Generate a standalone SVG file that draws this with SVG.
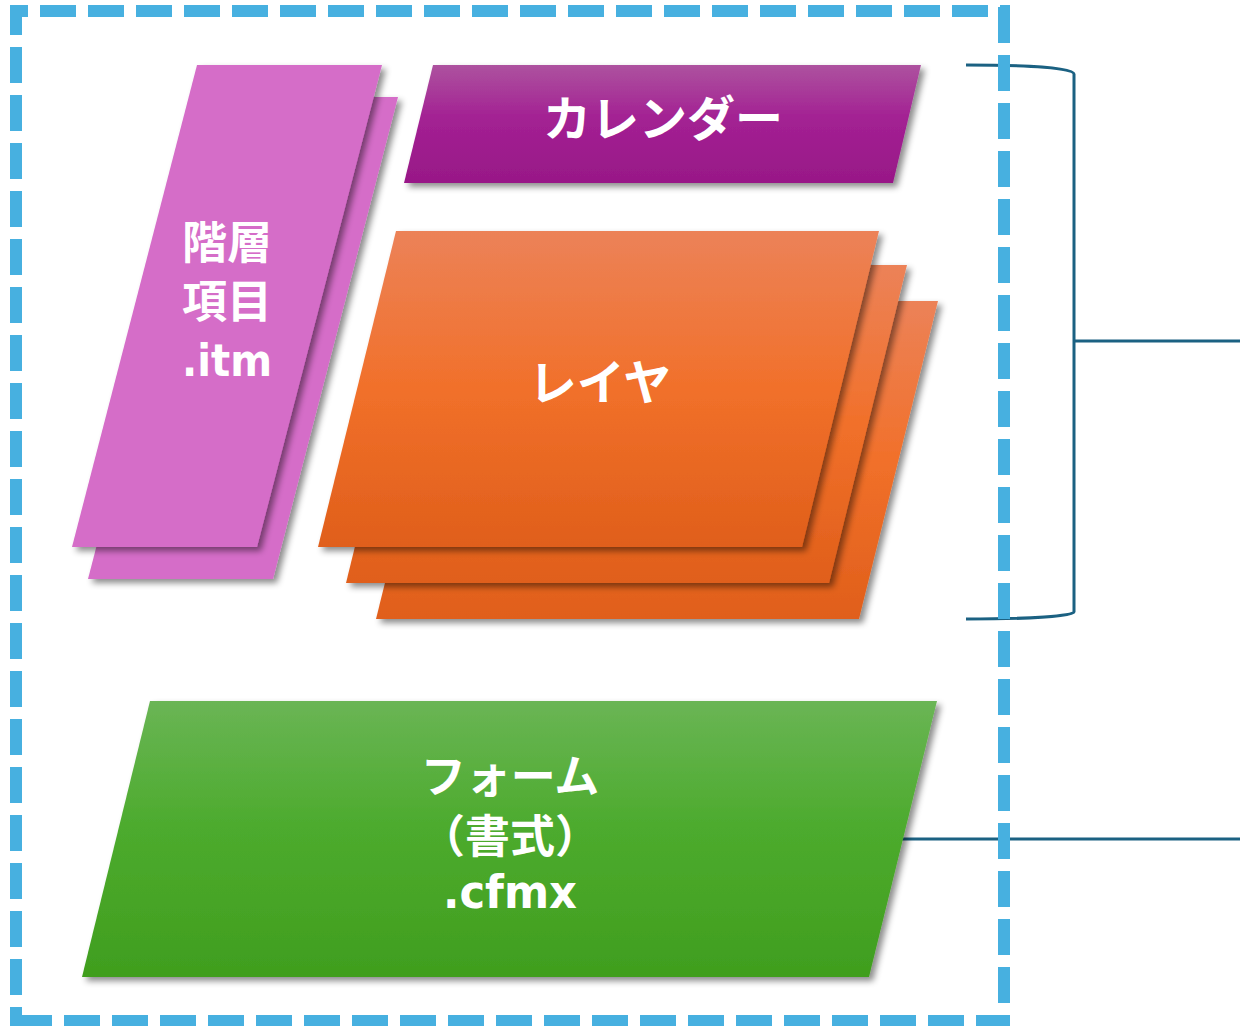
<svg xmlns="http://www.w3.org/2000/svg" width="1240" height="1026" viewBox="0 0 1240 1026">
  <defs>
    <linearGradient id="gCal" x1="0" y1="0" x2="0" y2="1">
      <stop offset="0" stop-color="#AD529F"/>
      <stop offset="0.45" stop-color="#A32193"/>
      <stop offset="1" stop-color="#981887"/>
    </linearGradient>
    <linearGradient id="gOrg" x1="0" y1="0" x2="0" y2="1">
      <stop offset="0" stop-color="#EC8258"/>
      <stop offset="0.5" stop-color="#F1702A"/>
      <stop offset="1" stop-color="#E05F1B"/>
    </linearGradient>
    <linearGradient id="gGrn" x1="0" y1="0" x2="0" y2="1">
      <stop offset="0" stop-color="#6AB555"/>
      <stop offset="0.45" stop-color="#4DAB2E"/>
      <stop offset="1" stop-color="#409E1E"/>
    </linearGradient>
    <filter id="sh" x="-10%" y="-10%" width="125%" height="125%">
      <feDropShadow dx="4" dy="4" stdDeviation="3" flood-color="#000" flood-opacity="0.45"/>
    </filter>
  </defs>
  <style>
    .lbl { fill: #FFFFFF; font-weight: bold; text-anchor: middle; font-family: "DejaVu Sans", "Noto Sans CJK JP", sans-serif; }
    .jp { font-family: "Noto Sans CJK JP", "DejaVu Sans", sans-serif; }
    .conn { fill: none; stroke: #1B6182; stroke-width: 3; }
    .dash { fill: none; stroke: #47B0E0; stroke-width: 12; stroke-dasharray: 36 12; }
    .shp { filter: url(#sh); }
  </style>

  <g id="connectors">
    <path class="conn" d="M966,65 C1030,65 1074,68 1074,74 V612 C1074,616 1030,619 966,619"/>
    <path class="conn" d="M1074,341 H1240"/>
    <path class="conn" d="M880,839 H1240"/>
  </g>

  <g id="node-hierarchy">
    <polygon class="shp" points="213,97 398,97 273,579 88,579" fill="#D56DC8"/>
    <polygon class="shp" points="197,65 382,65 257,547 72,547" fill="#D56DC8"/>
    <text class="lbl jp" x="227" y="259" font-size="45">階層</text>
    <text class="lbl jp" x="227" y="318" font-size="45">項目</text>
    <text class="lbl" x="227" y="376" font-size="44" textLength="90" lengthAdjust="spacingAndGlyphs">.itm</text>
  </g>

  <g id="node-calendar">
    <polygon class="shp" points="433,65 921,65 893,183 404,183" fill="url(#gCal)"/>
    <text class="lbl jp" x="663" y="136" font-size="48">カレンダー</text>
  </g>

  <g id="node-layer">
    <polygon class="shp" points="455,301 938,301 859,619 376,619" fill="url(#gOrg)"/>
    <polygon class="shp" points="424,265 907,265 829,583 346,583" fill="url(#gOrg)"/>
    <polygon class="shp" points="396,231 879,231 802,547 318,547" fill="url(#gOrg)"/>
    <text class="lbl jp" x="600" y="400" font-size="48">レイヤ</text>
  </g>

  <g id="node-form">
    <polygon class="shp" points="150,701 937,701 869,977 82,977" fill="url(#gGrn)"/>
    <text class="lbl jp" x="510" y="793" font-size="45">フォーム</text>
    <text class="lbl jp" x="510" y="853" font-size="45">（書式）</text>
    <text class="lbl" x="510" y="908" font-size="46" textLength="134" lengthAdjust="spacingAndGlyphs">.cfmx</text>
  </g>

  <g id="boundary">
    <path class="dash" d="M10,11 H1010" stroke-dashoffset="18"/>
    <path class="dash" d="M10,1021 H1010" stroke-dashoffset="42"/>
    <path class="dash" d="M16,5 V1027" stroke-dashoffset="6"/>
    <path class="dash" d="M1004,5 V1027" stroke-dashoffset="46"/>
  </g>
</svg>
